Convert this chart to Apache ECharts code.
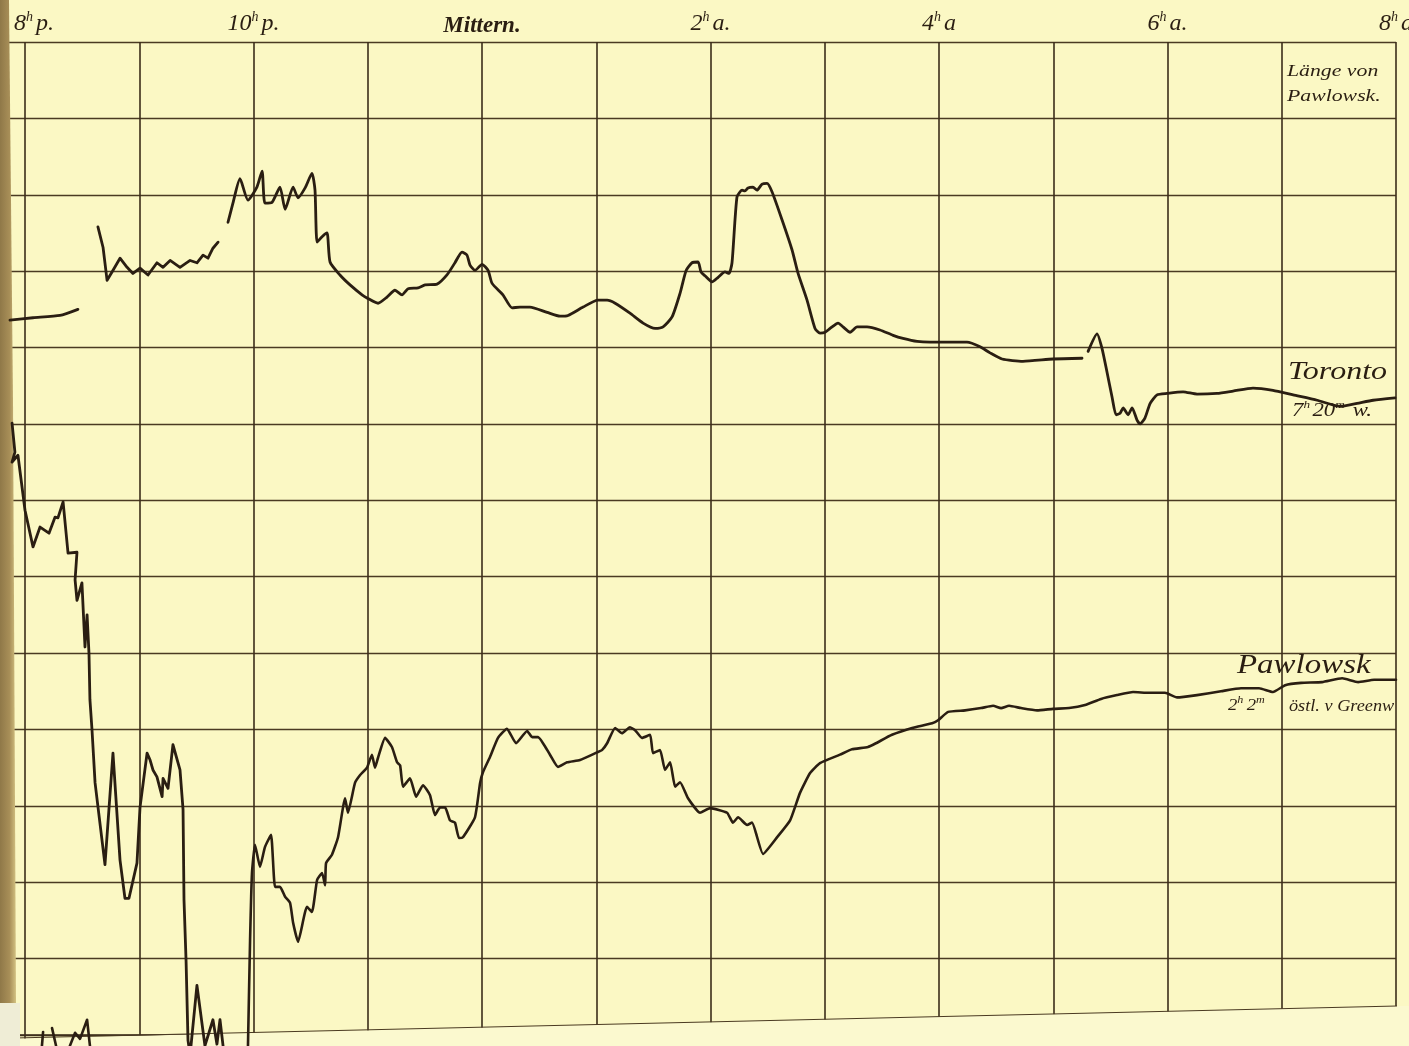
<!DOCTYPE html>
<html><head><meta charset="utf-8">
<script src="https://cdn.jsdelivr.net/npm/echarts@6/dist/echarts.min.js"></script>
<style>html,body{margin:0;padding:0;background:#fbf8c4;}#c{width:1409px;height:1046px;}</style>
</head><body><div id="c"></div>
<script>
// x: minutes after 8h p.m. ; y: scale divisions from the bottom line of the sheet
const tickHour   = ['8','','10','','Mittern.','','2','','4','','6','','8'];
const tickSuffix = ['p.','','p.','','','','a.','','a','','a.','','a'];

const torontoA = [[-7.9,9.36],[4.2,9.39],[18.4,9.42],[27.8,9.50]];
const torontoB = [[38.3,10.58],[41.0,10.31],[43.1,9.88],[45.7,9.99],[49.9,10.17],[53.6,10.05],[56.7,9.97],[60.4,10.04],[64.6,9.95],[69.3,10.11],[72.5,10.05],[76.2,10.14],[81.4,10.05],[86.7,10.14],[90.3,10.11],[93.5,10.21],[96.1,10.17],[98.7,10.30],[101.4,10.38]];
const torontoC = [[106.6,10.64],[109.2,10.89],[112.9,11.21],[117.1,10.93],[121.8,11.10],[124.5,11.31],[126.0,10.89],[129.7,10.90],[133.9,11.10],[136.6,10.81],[140.8,11.10],[143.4,10.96],[147.1,11.09],[150.7,11.28],[152.3,11.06],[153.4,10.38],[156.0,10.45],[158.6,10.50],[160.2,10.12],[165.4,9.95],[170.7,9.82],[177.0,9.69],[179.6,9.65],[185.4,9.58],[190.1,9.66],[194.3,9.75],[198.0,9.69],[201.2,9.77],[206.4,9.78],[210.1,9.82],[216.4,9.83],[221.6,9.95],[225.8,10.11],[229.5,10.25],[232.1,10.21],[233.7,10.08],[236.3,10.01],[240.0,10.09],[243.2,10.01],[245.3,9.84],[251.0,9.69],[255.8,9.52],[260.0,9.53],[265.2,9.53],[274.2,9.46],[281.0,9.41],[285.2,9.42],[293.1,9.53],[300.9,9.62],[305.7,9.62],[309.9,9.58],[317.7,9.45],[324.6,9.32],[330.9,9.25],[335.1,9.27],[339.8,9.40],[344.0,9.71],[347.2,10.01],[350.3,10.11],[353.5,10.12],[355.0,9.99],[357.1,9.94],[360.8,9.86],[364.0,9.92],[367.6,9.99],[369.7,9.97],[371.3,10.11],[373.9,10.97],[376.6,11.06],[378.1,11.05],[379.7,11.09],[382.3,11.10],[384.4,11.06],[387.1,11.14],[389.7,11.15],[392.3,11.04],[397.6,10.67],[402.8,10.28],[406.0,9.97],[410.7,9.62],[414.9,9.25],[417.5,9.19],[420.2,9.20],[422.8,9.25],[427.0,9.32],[429.6,9.27],[433.3,9.20],[437.0,9.27],[442.2,9.27],[449.0,9.23],[455.9,9.16],[461.1,9.12],[468.5,9.08],[475.3,9.07],[480.6,9.07],[494.7,9.07],[501.6,9.01],[506.8,8.93],[513.1,8.85],[524.1,8.82],[539.9,8.85],[555.1,8.86]];
const torontoD = [[558.3,8.95],[563.0,9.18],[565.6,8.99],[568.3,8.67],[570.9,8.35],[573.0,8.12],[575.1,8.14],[576.7,8.21],[579.3,8.12],[581.4,8.21],[584.0,8.05],[585.6,8.00],[588.2,8.08],[590.9,8.27],[594.5,8.38],[599.8,8.40],[608.2,8.42],[615.5,8.39],[626.0,8.40],[634.4,8.43],[644.9,8.47],[655.4,8.44],[666.0,8.38],[678.6,8.31],[690.6,8.23],[699.6,8.27],[708.0,8.31],[719.5,8.34]];

const pawlowskA = [[-6.8,8.01],[-5.3,7.63],[-6.8,7.50],[-3.7,7.59],[0,6.87],[4.2,6.39],[7.9,6.65],[12.6,6.57],[15.8,6.78],[17.3,6.77],[20.0,6.98],[22.6,6.31],[27.3,6.32],[26.3,5.96],[27.3,5.69],[29.9,5.92],[31.5,5.08],[32.6,5.50],[33.6,5.00],[34.1,4.39],[35.2,3.99],[36.8,3.30],[42.0,2.23],[46.2,3.69],[49.9,2.29],[52.5,1.79],[54.6,1.79],[58.8,2.25],[60.4,2.98],[64.1,3.69],[65.7,3.60],[67.2,3.47],[69.3,3.38],[72.0,3.12],[72.5,3.36],[75.1,3.23],[77.7,3.80],[81.4,3.47],[83.0,2.95],[83.5,1.77],[84.6,0.96],[85.6,-0.07],[86.7,-0.26],[90.3,0.65],[94.5,-0.14],[98.7,0.20],[100.8,-0.12],[102.4,0.20],[104.0,-0.14]];
const pawlowskB = [[117.1,-0.14],[118.2,1.24],[119.2,2.12],[120.8,2.49],[123.4,2.20],[126.0,2.46],[129.2,2.62],[131.3,1.94],[133.9,1.94],[136.6,1.81],[139.2,1.73],[140.8,1.47],[143.4,1.22],[148.1,1.68],[150.7,1.61],[153.4,2.03],[156.0,2.12],[157.6,1.96],[158.1,2.25],[161.2,2.36],[164.4,2.59],[168.1,3.10],[169.6,2.91],[173.3,3.30],[175.9,3.40],[179.6,3.50],[182.2,3.67],[183.8,3.50],[185.4,3.63],[189.1,3.89],[192.7,3.77],[195.4,3.57],[197.0,3.53],[198.5,3.25],[202.2,3.36],[205.4,3.12],[209.0,3.27],[212.7,3.14],[215.3,2.88],[218.0,2.98],[220.6,2.98],[223.2,2.81],[225.8,2.78],[227.9,2.58],[230.0,2.59],[236.3,2.85],[239.0,3.30],[240.5,3.44],[244.2,3.64],[248.4,3.89],[253.1,4.01],[257.9,3.82],[263.7,3.98],[266.3,3.90],[269.4,3.90],[275.7,3.67],[279.9,3.51],[284.7,3.57],[291.5,3.60],[300.4,3.70],[303.0,3.73],[305.7,3.82],[309.9,4.02],[313.5,3.95],[317.7,4.03],[320.4,3.99],[324.0,3.89],[328.3,3.93],[329.8,3.69],[333.5,3.73],[336.1,3.47],[338.8,3.57],[341.4,3.25],[344.0,3.31],[348.2,3.10],[354.5,2.91],[359.8,2.97],[368.7,2.91],[371.8,2.78],[374.5,2.85],[379.2,2.75],[381.8,2.78],[387.6,2.37],[395.0,2.59],[401.8,2.81],[407.0,3.17],[412.3,3.43],[417.5,3.56],[428.0,3.67],[434.3,3.74],[442.7,3.77],[446.9,3.82],[455.3,3.93],[465.9,4.02],[476.4,4.08],[479.5,4.12],[484.8,4.23],[493.7,4.25],[502.1,4.28],[508.4,4.31],[512.6,4.28],[516.8,4.31],[523.1,4.28],[531.5,4.25],[539.9,4.27],[548.3,4.28],[556.7,4.32],[565.1,4.40],[573.5,4.45],[581.9,4.49],[590.3,4.48],[598.7,4.48],[605.0,4.42],[615.5,4.45],[628.1,4.50],[638.6,4.54],[648.1,4.54],[655.4,4.49],[661.8,4.58],[670.2,4.61],[681.2,4.62],[691.7,4.67],[700.1,4.62],[708.5,4.65],[720.0,4.65]];
const pawlowskC1 = [[8.9,-0.14],[9.5,0.04]];
const pawlowskC2 = [[14.2,0.09],[16.3,-0.14]];
const pawlowskC3 = [[23.6,-0.14],[26.3,0.03],[28.9,-0.05],[32.6,0.20],[34.1,-0.14]];

const INK = '#2a1e12';
const SERIF = '"Liberation Serif", "DejaVu Serif", serif';
const PAPER = '#fbf8c4';

function seg(name, data, w, smooth){
  return {name, type:'line', data, clip:false, symbol:'none', smooth,
    lineStyle:{color:INK, width:w, join:'round', cap:'round'}, z:3, silent:true};
}

const chart = echarts.init(document.getElementById('c'), null, {renderer:'canvas'});
const rich = {
  n:{fontFamily:SERIF, fontStyle:'italic', fontSize:24, color:INK},
  s:{fontFamily:SERIF, fontStyle:'italic', fontSize:14, color:INK, padding:[0,3,14,0]},
  b:{fontFamily:SERIF, fontStyle:'italic', fontWeight:'bold', fontSize:23, color:INK},
  pad:{width:18}
};
// the sheet: one hour per column, one division per row; the axes reach one step past the sheet
const HOUR_PX = 114.25, DIV_PX = 76.4;
chart.setOption({
  backgroundColor: PAPER,
  animation:false,
  grid:{left:25 - HOUR_PX, right:13, top:42, bottom:11 - DIV_PX, outerBoundsMode:'none', containLabel:false},
  xAxis:{type:'value', min:-60, max:720, interval:60, position:'top',
    axisLine:{show:true, lineStyle:{color:'#3b2d1a', width:1.6}},
    axisTick:{show:false},
    splitLine:{show:true, lineStyle:{color:'#3b2d1a', width:1.6}},
    axisLabel:{margin:4, rich, showMinLabel:true, showMaxLabel:true, formatter:(v)=>{
      const i = Math.round(v/60); if(i<0) return '';
      const h = tickHour[i];
      if(!h) return '';
      if(h==='Mittern.') return '{b|Mittern.}';
      return (i===0?'{pad|}':'')+'{n|'+h+'}{s|h}{n|'+tickSuffix[i]+'}';
    }}},
  yAxis:{type:'value', min:-1, max:13, interval:1,
    axisLine:{show:false},
    axisTick:{show:false}, axisLabel:{show:false},
    splitLine:{show:true, lineStyle:{color:'#4a3a22', width:1.4}}},
  series:[
    seg('Toronto', torontoA, 2.8, 0.2),
    seg('Toronto', torontoB, 2.8, 0),
    seg('Toronto', torontoC, 2.8, 0.2),
    seg('Toronto', torontoD, 2.8, 0.2),
    seg('Pawlowsk', pawlowskA, 2.8, 0),
    seg('Pawlowsk', pawlowskB, 2.6, 0.15),
    seg('Pawlowsk', pawlowskC1, 2.6, 0),
    seg('Pawlowsk', pawlowskC2, 2.6, 0),
    seg('Pawlowsk', pawlowskC3, 2.6, 0)
  ],
  graphic:[
    // page below the slanted bottom edge of the sheet
    {type:'polygon', z:1, silent:true, shape:{points:[[0,1039],[1397,1006],[1409,1006],[1409,1046],[0,1046]]}, style:{fill:'#fbf9cf'}},
    {type:'line', z:1, silent:true, shape:{x1:14,y1:1038,x2:1397,y2:1006}, style:{stroke:'#4a3a22', lineWidth:1.2}},
    // binding strip
    {type:'polygon', z:1.5, silent:true, shape:{points:[[0,0],[9,0],[13,400],[16,1003],[0,1003]]},
      style:{fill:new echarts.graphic.LinearGradient(0,0,1,0,[{offset:0,color:'#8f7848'},{offset:0.6,color:'#a88f58'},{offset:1,color:'#d3c282'}])}},
    {type:'rect', z:1.5, silent:true, shape:{x:0,y:1003,width:20,height:43}, style:{fill:'#efedd6'}},
    // annotations
    {type:'text', z:4, x:1287, y:80, scaleX:1.28, style:{text:'Länge von', font:'italic 17px '+SERIF, fill:INK, verticalAlign:'bottom', textVerticalAlign:'bottom'}},
    {type:'text', z:4, x:1287, y:105, scaleX:1.28, style:{text:'Pawlowsk.', font:'italic 17px '+SERIF, fill:INK, verticalAlign:'bottom', textVerticalAlign:'bottom'}},
    {type:'text', z:4, x:1288, y:385, scaleX:1.28, style:{text:'Toronto', font:'italic 25px '+SERIF, fill:INK, verticalAlign:'bottom', textVerticalAlign:'bottom'}},
    {type:'text', z:4, x:1292, y:421, scaleX:1.2, style:{text:'{n|7}{s|h}{n|20}{s|m}{n| w.}', fill:INK, verticalAlign:'bottom', textVerticalAlign:'bottom',
      rich:{n:{fontFamily:SERIF, fontStyle:'italic', fontSize:19, fill:INK}, s:{fontFamily:SERIF, fontStyle:'italic', fontSize:11, fill:INK, padding:[0,2,10,0]}}}},
    {type:'text', z:4, x:1237, y:679, scaleX:1.22, style:{text:'Pawlowsk', font:'italic 27px '+SERIF, fill:INK, verticalAlign:'bottom', textVerticalAlign:'bottom'}},
    {type:'text', z:4, x:1228, y:716, scaleX:1.1, style:{text:'{n|2}{s|h}{n|2}{s|m}', fill:INK, verticalAlign:'bottom', textVerticalAlign:'bottom',
      rich:{n:{fontFamily:SERIF, fontStyle:'italic', fontSize:17, fill:INK}, s:{fontFamily:SERIF, fontStyle:'italic', fontSize:11, fill:INK, padding:[0,3,10,0]}}}},
    {type:'text', z:4, x:1289, y:715, scaleX:1.14, style:{text:'östl. v Greenw', font:'italic 16px '+SERIF, fill:INK, verticalAlign:'bottom', textVerticalAlign:'bottom'}}
  ]
});
</script></body></html>
